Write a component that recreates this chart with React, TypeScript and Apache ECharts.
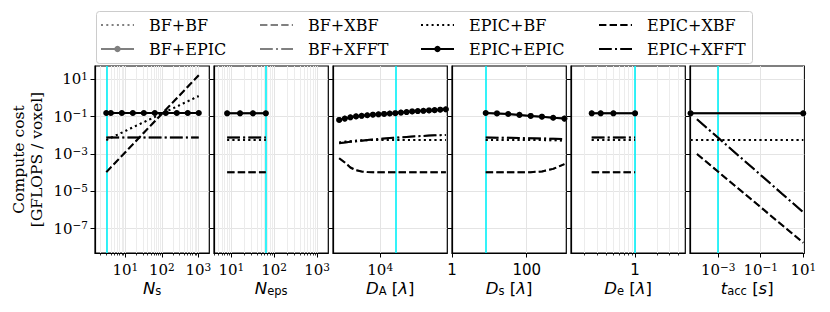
import { useEffect, useRef } from "react";
import * as echarts from "echarts";

// ---------------- data ----------------
const legendColumns = [
  ["BF+BF", "BF+EPIC"],
  ["BF+XBF", "BF+XFFT"],
  ["EPIC+BF", "EPIC+EPIC"],
  ["EPIC+XBF", "EPIC+XFFT"],
];

const yTickValues = [10, 0.1, 1e-3, 1e-5, 1e-7];
const yRange = [5e-9, 52];

// Panel 1: N_s
const nsX = [3, 4, 8, 16, 32, 64, 128, 256, 512, 1024];
const nsBF = [0.0056, 0.0074, 0.014, 0.027, 0.051, 0.097, 0.185, 0.35, 0.67, 1.28];
const nsEPIC = [0.158, 0.158, 0.158, 0.158, 0.158, 0.158, 0.158, 0.158, 0.158, 0.158];
const nsXBF = [1.07e-4, 1.93e-4, 8.0e-4, 3.3e-3, 0.0138, 0.057, 0.236, 0.975, 4.0, 16.7];
const nsXFFT = [0.0076, 0.0076, 0.0076, 0.0076, 0.0076, 0.0076, 0.0076, 0.0076, 0.0076, 0.0076];
const nsTicks = [10, 100, 1000];
const nsRange = [1.47, 1995];

// Panel 2: N_eps
const nepsX = [8, 16, 32, 64];
const nepsBF = [0.0056, 0.0056, 0.0056, 0.0056];
const nepsEPIC = [0.152, 0.152, 0.152, 0.152];
const nepsXBF = [1.05e-4, 1.05e-4, 1.05e-4, 1.05e-4];
const nepsXFFT = [0.0076, 0.0076, 0.0076, 0.0076];
const nepsTicks = [10, 100, 1000];
const nepsRange = [3.95, 1835];

// Panel 3: D_A
const daX = [3070, 3610, 4240, 4990, 5860, 6890, 8100, 9520, 11190, 13150, 15460, 18170, 21360, 25100, 29500, 34670, 40750, 47900, 56300, 66200];
const daBF = [0.0042, 0.0046, 0.0049, 0.0052, 0.0054, 0.0055, 0.0056, 0.0056, 0.0056, 0.0056, 0.0056, 0.0056, 0.0056, 0.0056, 0.0056, 0.0056, 0.0056, 0.0056, 0.0056, 0.0056];
const daEPIC = [0.067, 0.079, 0.093, 0.104, 0.112, 0.12, 0.128, 0.134, 0.141, 0.148, 0.154, 0.166, 0.178, 0.192, 0.2, 0.207, 0.217, 0.225, 0.237, 0.249];
const daXBF = [6.0e-4, 3.5e-4, 1.9e-4, 1.35e-4, 1.15e-4, 1.08e-4, 1.06e-4, 1.05e-4, 1.05e-4, 1.05e-4, 1.05e-4, 1.05e-4, 1.05e-4, 1.05e-4, 1.05e-4, 1.05e-4, 1.05e-4, 1.05e-4, 1.05e-4, 1.05e-4];
const daXFFT = [0.0038, 0.0041, 0.0045, 0.0048, 0.0052, 0.0056, 0.006, 0.0064, 0.0068, 0.0072, 0.0075, 0.0079, 0.0083, 0.0087, 0.009, 0.0093, 0.0097, 0.01, 0.0103, 0.0106];
const daTicks = [1e4];
const daRange = [2570, 69000];

// Panel 4: D_s
const dsX = [8, 16, 32, 64, 128, 256, 512, 1024];
const dsBF = [0.0056, 0.0056, 0.0056, 0.0056, 0.0056, 0.0056, 0.0055, 0.0053];
const dsEPIC = [0.158, 0.15, 0.14, 0.125, 0.11, 0.1, 0.088, 0.079];
const dsXBF = [1.05e-4, 1.05e-4, 1.05e-4, 1.05e-4, 1.07e-4, 1.17e-4, 1.6e-4, 2.9e-4];
const dsXFFT = [0.0076, 0.0075, 0.0074, 0.0072, 0.007, 0.0068, 0.0066, 0.0064];
const dsTicks = [1, 100];
const dsRange = [1, 1150];

// Panel 5: D_e
const deX = [0.25, 0.333, 0.5, 1];
const deBF = [0.0056, 0.0056, 0.0056, 0.0056];
const deEPIC = [0.152, 0.152, 0.152, 0.152];
const deXBF = [1.05e-4, 1.05e-4, 1.05e-4, 1.05e-4];
const deXFFT = [0.0076, 0.0076, 0.0076, 0.0076];
const deTicks = [1];
const deRange = [0.129, 4.98];

// Panel 6: t_acc
const taccFlatX = [5e-5, 10];
const taccSlopeX = [1e-4, 1e-3, 1e-2, 1e-1, 1, 10];
const taccBF = [0.0056, 0.0056];
const taccEPIC = [0.152, 0.152];
const taccXBF = [1.0e-3, 1.12e-4, 1.26e-5, 1.41e-6, 1.58e-7, 1.78e-8];
const taccXFFT = [0.072, 0.0074, 7.4e-4, 7.5e-5, 7.5e-6, 7.6e-7];
const taccTicks = [1e-3, 1e-1, 10];
const taccRange = [4.7e-5, 11.2];

// default parameter values (cyan lines)
const defaults = [3, 64, 15460, 8, 1, 1e-3];

// ---------------- chart building ----------------
type Method = "BF" | "EPIC" | "XBF" | "XFFT";
type PanelData = Record<Method, [number[], number[]]>;

const panelData: PanelData[] = [
  { BF: [nsX, nsBF], EPIC: [nsX, nsEPIC], XBF: [nsX, nsXBF], XFFT: [nsX, nsXFFT] },
  { BF: [nepsX, nepsBF], EPIC: [nepsX, nepsEPIC], XBF: [nepsX, nepsXBF], XFFT: [nepsX, nepsXFFT] },
  { BF: [daX, daBF], EPIC: [daX, daEPIC], XBF: [daX, daXBF], XFFT: [daX, daXFFT] },
  { BF: [dsX, dsBF], EPIC: [dsX, dsEPIC], XBF: [dsX, dsXBF], XFFT: [dsX, dsXFFT] },
  { BF: [deX, deBF], EPIC: [deX, deEPIC], XBF: [deX, deXBF], XFFT: [deX, deXFFT] },
  { BF: [taccFlatX, taccBF], EPIC: [taccFlatX, taccEPIC], XBF: [taccSlopeX, taccXBF], XFFT: [taccSlopeX, taccXFFT] },
];

const panelAxes = [
  { range: nsRange, ticks: nsTicks, fmt: "sci", minor: true, name: "{i|N}{u|s}" },
  { range: nepsRange, ticks: nepsTicks, fmt: "sci", minor: true, name: "{i|N}{u|eps}" },
  { range: daRange, ticks: daTicks, fmt: "sci", minor: false, name: "{i|D}{u|A}{n| [}{i|λ}{n|]}" },
  { range: dsRange, ticks: dsTicks, fmt: "plain", minor: false, name: "{i|D}{u|s}{n| [}{i|λ}{n|]}" },
  { range: deRange, ticks: deTicks, fmt: "plain", minor: true, name: "{i|D}{u|e}{n| [}{i|λ}{n|]}" },
  { range: taccRange, ticks: taccTicks, fmt: "sci", minor: false, name: "{i|t}{u|acc}{n| [}{i|s}{n|]}" },
];

const L = Math.log10;
const GRID_LEFT0 = 95;
const GRID_STEP = 119;
const GRID_W = 114.3;
const GRID_TOP = 66;
const GRID_H = 187;
const GRAY = "#808080";
const CYAN = "#00f0f8";
const GRID_COLOR = "#e4e4e4";
const MINOR_GRID_COLOR = "#ececec";
const SERIF = "DejaVu Serif";
const SANS = "DejaVu Sans";

const dashFor: Record<Method, any> = {
  BF: [2, 3.3],
  EPIC: "solid",
  XBF: [7.4, 3.2],
  XFFT: [12.8, 3.2, 2, 3.2],
};

const tickRich = {
  b: { fontFamily: SERIF, fontSize: 15, lineHeight: 18, color: "#000" },
  s: { fontFamily: SERIF, fontSize: 10.5, lineHeight: 8, verticalAlign: "top", color: "#000" },
  p: { fontFamily: SANS, fontSize: 15, lineHeight: 18, color: "#000" },
};

const nameRich = {
  i: { fontFamily: SANS, fontStyle: "italic", fontSize: 16.5, lineHeight: 18, color: "#000" },
  n: { fontFamily: SANS, fontSize: 16.5, lineHeight: 18, color: "#000" },
  u: { fontFamily: SANS, fontSize: 11.5, lineHeight: 6, verticalAlign: "bottom", color: "#000" },
};

function expText(v: number) {
  const e = Math.round(v);
  return e < 0 ? "\u2212" + String(-e) : String(e);
}

function minorTicks(lo: number, hi: number) {
  const out: number[] = [];
  for (let n = Math.floor(lo) - 1; n <= Math.ceil(hi); n++) {
    for (let k = 2; k <= 9; k++) {
      const v = n + L(k);
      if (v >= lo && v <= hi) out.push(v);
    }
  }
  return out;
}

function buildOption() {
  const grid: any[] = [];
  const xAxis: any[] = [];
  const yAxis: any[] = [];
  const series: any[] = [];

  panelAxes.forEach((pa, p) => {
    grid.push({
      left: GRID_LEFT0 + GRID_STEP * p,
      top: GRID_TOP,
      width: GRID_W,
      height: GRID_H,
      show: true,
      borderColor: "#000",
      borderWidth: 1.2,
      backgroundColor: "transparent",
      containLabel: false,
      outerBoundsMode: "none",
    });
    const xmin = L(pa.range[0]);
    const xmax = L(pa.range[1]);
    const majorIdx = xAxis.length;
    const majors = pa.ticks.map((t) => L(t));
    xAxis.push({
      type: "value",
      gridIndex: p,
      position: "bottom",
      min: xmin,
      max: xmax,
      name: pa.name,
      nameLocation: "middle",
      nameGap: 26,
      nameMoveOverlap: false,
      nameTextStyle: { rich: nameRich },
      axisLine: { show: true, onZero: false, lineStyle: { color: "#000", width: 1.2 } },
      axisTick: { show: true, inside: false, length: 4.5, customValues: majors, lineStyle: { color: "#000", width: 1 } },
      axisLabel: {
        show: true,
        margin: 8,
        customValues: majors,
        hideOverlap: false,
        formatter: (v: number) =>
          pa.fmt === "sci" ? `{b|10}{s|${expText(v)}}` : `{p|${String(Math.round(Math.pow(10, v)))}}`,
        rich: tickRich,
      },
      splitLine: { show: true, lineStyle: { color: GRID_COLOR, width: 1 } },
      minorTick: { show: false },
      minorSplitLine: { show: false },
    });
    if (pa.minor) {
      const mins = minorTicks(xmin, xmax);
      xAxis.push({
        type: "value",
        gridIndex: p,
        position: "bottom",
        min: xmin,
        max: xmax,
        axisLine: { show: false, onZero: false },
        axisTick: { show: true, inside: false, length: 2.5, customValues: mins, lineStyle: { color: "#000", width: 0.8 } },
        axisLabel: { show: false },
        splitLine: { show: true, lineStyle: { color: MINOR_GRID_COLOR, width: 1 } },
      });
    }
    const yTicks = yTickValues.map((t) => L(t));
    yAxis.push({
      type: "value",
      gridIndex: p,
      min: L(yRange[0]),
      max: L(yRange[1]),
      name: p === 0 ? "Compute cost\n[GFLOPS / voxel]" : "",
      nameLocation: "middle",
      nameRotate: 90,
      nameGap: 49,
      nameMoveOverlap: false,
      nameTextStyle: { fontFamily: SERIF, fontSize: 15.5, lineHeight: 18, color: "#000" },
      axisLine: { show: true, onZero: false, lineStyle: { color: "#000", width: 1.2 } },
      axisTick: { show: true, inside: false, length: 4.5, customValues: yTicks, lineStyle: { color: "#000", width: 1 } },
      axisLabel: {
        show: p === 0,
        margin: 7,
        customValues: yTicks,
        formatter: (v: number) => `{b|10}{s|${expText(v)}}`,
        rich: tickRich,
      },
      splitLine: { show: true, lineStyle: { color: GRID_COLOR, width: 1 } },
    });

    // cyan default-value line
    series.push({
      type: "line",
      xAxisIndex: majorIdx,
      yAxisIndex: p,
      data: [],
      silent: true,
      z: 1,
      markLine: {
        silent: true,
        symbol: ["none", "none"],
        label: { show: false },
        z: 1,
        animation: false,
        lineStyle: { color: CYAN, width: 1.6, type: "solid" },
        emphasis: { disabled: true },
        data: [{ xAxis: L(defaults[p]) }],
      },
    });

    (["BF", "EPIC"] as const).forEach((prefix) => {
      (["BF", "EPIC", "XBF", "XFFT"] as Method[]).forEach((m) => {
        const [xs, ys] = panelData[p][m];
        const color = prefix === "BF" ? GRAY : "#000";
        series.push({
          type: "line",
          name: `${prefix}+${m}`,
          xAxisIndex: majorIdx,
          yAxisIndex: p,
          data: xs.map((x, i) => [L(x), L(ys[i])]),
          symbol: m === "EPIC" ? "circle" : "none",
          symbolSize: 6,
          showSymbol: m === "EPIC",
          lineStyle: { color, width: 2, type: dashFor[m], cap: "butt" },
          itemStyle: { color, borderWidth: 0 },
          z: prefix === "BF" ? 2 : 3,
          silent: true,
          emphasis: { disabled: true },
          animation: false,
        });
      });
    });
  });

  const legendLefts = [100, 259, 420, 598];
  const legend = legendColumns.map((names, i) => ({
    orient: "vertical",
    left: legendLefts[i],
    top: 17,
    padding: 0,
    data: names.map((n) =>
      n.endsWith("+EPIC") ? { name: n } : { name: n, itemStyle: { opacity: 0 } }
    ),
    itemWidth: 33,
    itemHeight: 8,
    itemGap: 8,
    selectedMode: false,
    textStyle: { fontFamily: SERIF, fontSize: 16, color: "#000", lineHeight: 16, padding: [0, 0, 0, 10] },
  }));

  return {
    animation: false,
    backgroundColor: "#fff",
    grid,
    xAxis,
    yAxis,
    series,
    legend,
    graphic: [
      {
        type: "rect",
        left: 96,
        top: 11,
        shape: { width: 656, height: 52, r: 3 },
        style: { fill: "rgba(255,255,255,0.8)", stroke: "#cccccc", lineWidth: 1 },
        z: -1,
        silent: true,
      },
    ],
  };
}

export default function App() {
  const ref = useRef<HTMLDivElement>(null);
  useEffect(() => {
    const chart = echarts.init(ref.current!, undefined, { renderer: "svg" });
    chart.setOption(buildOption() as any);
    return () => chart.dispose();
  }, []);
  return (
    <div
      ref={ref}
      style={{ position: "absolute", left: 0, top: 0, width: 830, height: 312, background: "#fff" }}
    />
  );
}
